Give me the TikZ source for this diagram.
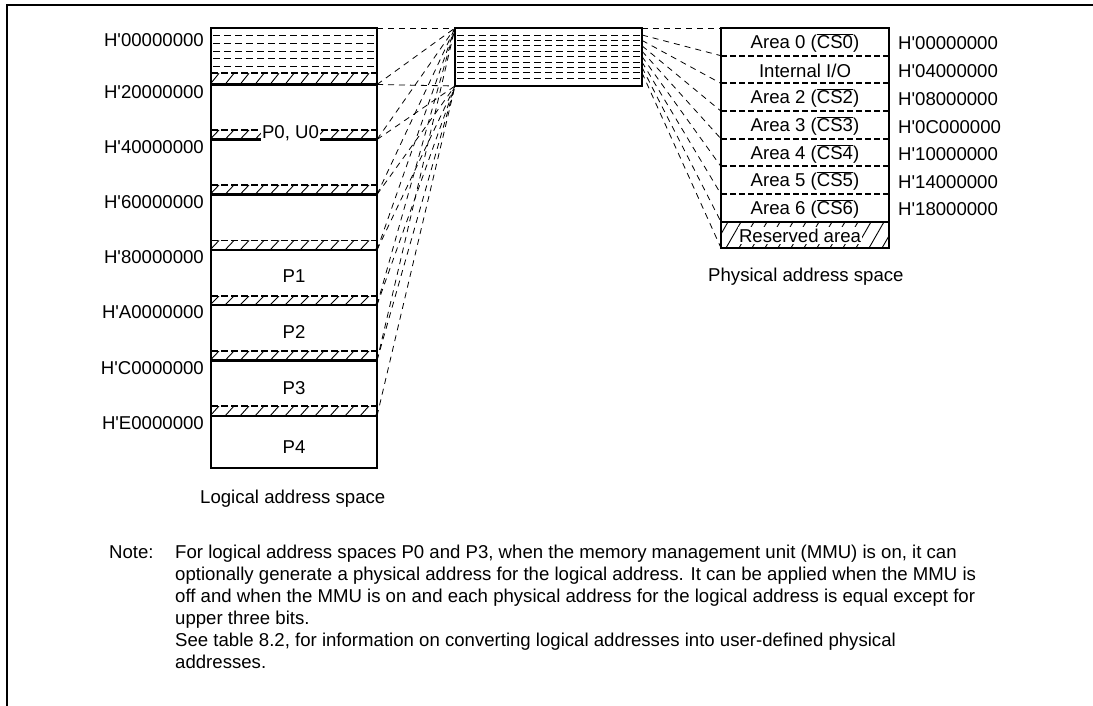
\documentclass[tikz,border=0pt]{standalone}
\usepackage{fontspec}
\setmainfont{Liberation Sans}[Ligatures=TeXOff]
\newcommand\ovl[1]{$\overline{\hbox{#1}}$}
\newcommand\aq{\char"27\relax}
\newcommand\hatchstrip[4]{%
  \begin{scope}
    \clip (#1,#3) rectangle (#2,#4);
    \foreach \hx in {195,210,...,390}
      \draw[hatchln] (\hx,#4) -- ({\hx+9},#3);
  \end{scope}
  \draw[strip top] (#1,#3) -- (#2,#3);}
\begin{document}
\begin{tikzpicture}[x=1pt,y=-1pt,
  lbl/.style={inner sep=0pt, font=\fontsize{18.6}{22}\selectfont},
  blk/.style={line width=2.4pt},
  thin dash/.style={line width=0.9pt, dash pattern=on 7pt off 4pt},
  conn/.style={line width=0.8pt, dash pattern=on 6pt off 5pt},
  div dash/.style={line width=2pt, dash pattern=on 6pt off 3pt},
  strip top/.style={line width=1.8pt, dash pattern=on 7pt off 3pt},
  hatchln/.style={line width=0.9pt},
]
\useasboundingbox (0,0) rectangle (1093,706);
% frame
\draw[line width=2pt] (7,706) -- (7,5) -- (1093,5);

% ---------------- logical address space ----------------
\node[draw, blk, minimum width=166pt, minimum height=440pt, inner sep=0pt, outer sep=0pt, anchor=north west] (logic) at (211,28) {};
\foreach \y in {35,43,51,58.3,66}
  \draw[thin dash] (213,\y) -- (375,\y);
\hatchstrip{211}{377}{73.3}{84.5}
\hatchstrip{211}{377}{130}{139.5}
\hatchstrip{211}{377}{185}{194.5}
\hatchstrip{211}{377}{240.5}{250}
\hatchstrip{211}{377}{296}{305}
\hatchstrip{211}{377}{351}{360.5}
\hatchstrip{211}{377}{406}{416}
\foreach \y in {84.5,139.5,194.5,250,305,360.5,416}
  \draw[blk] (211,\y) -- (377,\y);
\node[lbl, fill=white, inner xsep=1pt, text depth=3pt, anchor=base] (p0) at (290.5,139) {P0, U0};
\node[lbl] (p1) at (294,276) {P1};
\node[lbl] (p2) at (294,332) {P2};
\node[lbl] (p3) at (294,388) {P3};
\node[lbl] (p4) at (294,447) {P4};
\foreach \t/\y [count=\i] in {{H\aq00000000}/40,{H\aq20000000}/92,{H\aq40000000}/147,{H\aq60000000}/202,{H\aq80000000}/257,{H\aq A0000000}/312,{H\aq C0000000}/368,{H\aq E0000000}/423}
  \node[lbl, anchor=east] (la\i) at (204,\y) {\t};
\node[lbl, anchor=base west] (lcap) at (200,503) {Logical address space};
\foreach \y [count=\i] in {28,84.5,139.5,194.5,250,305,360.5,416}
  \coordinate (LB\i) at (377,\y);

% ---------------- middle block ----------------
\node[draw, blk, minimum width=187pt, minimum height=58pt, inner sep=0pt, outer sep=0pt, anchor=north west] (mid) at (455,28) {};
\foreach \k in {0,...,8}
  \draw[thin dash] (457,{35+5.4*\k}) -- (640,{35+5.4*\k});
\foreach \k in {1,...,8}
  \coordinate (MR\k) at (642,{35+5.4*(\k-1)});

\foreach \i in {1,...,7}
  \draw[conn] (LB\i) -- (mid.north west);
\foreach \i in {2,...,8}
  \draw[conn] (LB\i) -- (mid.south west);

% ---------------- physical address space ----------------
\node[draw, blk, minimum width=168pt, minimum height=220pt, inner sep=0pt, outer sep=0pt, anchor=north west] (phys) at (721,28) {};
\foreach \y [count=\i] in {28,55.7,83.4,111.1,138.8,166.5,194.2,221.9,248}
  \coordinate (RB\i) at (721,\y);
\foreach \y in {55.7,83.4,111.1,138.8,166.5,194.2}
  \draw[div dash] (721,\y) -- (889,\y);
\draw[blk] (721,221.9) -- (889,221.9);
\begin{scope}
  \clip (721,221.9) rectangle (889,248);
  \foreach \hx in {700,713,...,900}
    \draw[hatchln] (\hx,248) -- ({\hx+15},221.9);
\end{scope}
\node[lbl, fill=white, inner xsep=1pt, inner ysep=2pt] (res) at (800,235.5) {Reserved area};
\foreach \t/\y [count=\i] in {{Area 0 (\ovl{CS0})}/42.9, {Internal I/O}/70.6, {Area 2 (\ovl{CS2})}/98.3, {Area 3 (\ovl{CS3})}/126, {Area 4 (\ovl{CS4})}/153.7, {Area 5 (\ovl{CS5})}/181.4, {Area 6 (\ovl{CS6})}/209}
  \node[lbl] (ar\i) at (805,\y) {\t};
\foreach \t/\y [count=\i] in {{H\aq00000000}/43,{H\aq04000000}/71,{H\aq08000000}/99,{H\aq0C000000}/127,{H\aq10000000}/154,{H\aq14000000}/182,{H\aq18000000}/209}
  \node[lbl, anchor=west] (ra\i) at (898,\y) {\t};
\node[lbl, anchor=base west] (pcap) at (708,281) {Physical address space};

\draw[conn] (mid.north east) -- (phys.north west);
\foreach \k [evaluate=\k as \j using int(\k+1)] in {1,...,8}
  \draw[conn] (MR\k) -- (RB\j);

% ---------------- note ----------------
\node[lbl, anchor=base west] (notehd) at (109,558) {Note:};
\node[lbl, anchor=base west] (n1) at (175,558) {For logical address spaces P0 and P3, when the memory management unit (MMU) is on, it can};
\node[lbl, anchor=base west] (n2) at (175,580) {optionally generate a physical address for the logical address. It can be applied when the MMU is};
\node[lbl, anchor=base west] (n3) at (175,602) {off and when the MMU is on and each physical address for the logical address is equal except for};
\node[lbl, anchor=base west] (n4) at (175,624) {upper three bits.};
\node[lbl, anchor=base west] (n5) at (175,646) {See table 8.2, for information on converting logical addresses into user-defined physical};
\node[lbl, anchor=base west] (n6) at (175,668) {addresses.};
\end{tikzpicture}
\end{document}
